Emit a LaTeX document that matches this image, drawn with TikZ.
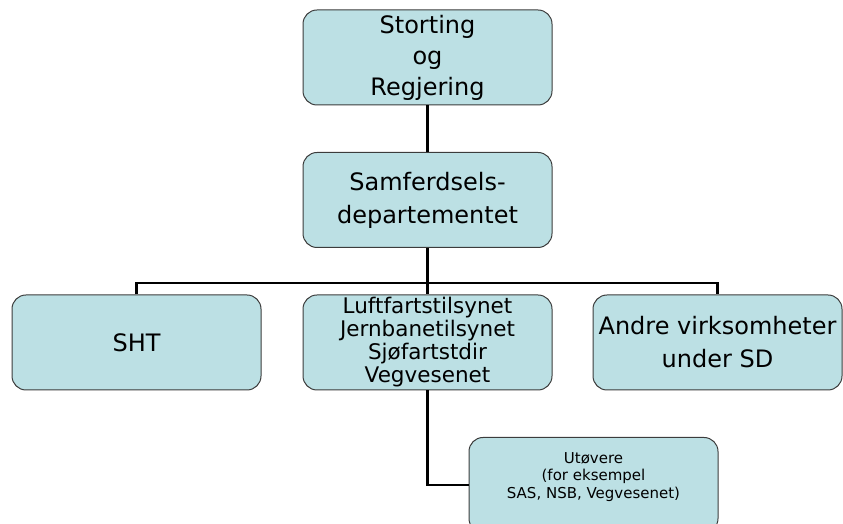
\documentclass[tikz,border=0pt]{standalone}
\usepackage{fontspec}
\setmainfont{DejaVu Sans}
\definecolor{boksfarge}{RGB}{188,224,228}
\definecolor{kant}{RGB}{60,60,60}

\begin{document}
\begin{tikzpicture}[x=1pt,y=1pt,
  boks/.style={draw=kant, line width=1pt, fill=boksfarge, rounded corners=14pt,
    minimum width=249pt, minimum height=95pt, inner sep=0pt, align=center,
    font=\fontsize{24}{31}\selectfont},
  linje/.style={line width=2.9pt}]
\useasboundingbox (0,0) rectangle (843,524);
\clip (0,0) rectangle (843,524);
\node[boks] (sto) at (427.5,466.5) {Storting\\og\\Regjering};
\node[boks, font=\fontsize{24}{33}\selectfont] (sd) at (427.5,324) {Samferdsels-\\departementet};
\node[boks] (sht) at (136.5,181.5) {SHT};
\node[boks, font=\fontsize{21.5}{23}\selectfont] (tilsyn) at (427.5,181.5) {Luftfartstilsynet\\Jernbanetilsynet\\Sjøfartstdir\\Vegvesenet};
\node[boks, font=\fontsize{24}{33}\selectfont] (andre) at (717.5,181.5) {Andre virksomheter\\under SD};
\node[boks, label={[name=uttekst, align=center, yshift=8pt,
    font=\fontsize{15}{17.5}\selectfont]center:Utøvere\\(for eksempel\\SAS, NSB, Vegvesenet)}]
  (ut) at (593.5,39) {};
\coordinate (gren) at (427.5,241);
\draw[linje] (sto.south) -- (sd.north);
\draw[linje] (sd.south) -- (gren) -- (tilsyn.north);
\draw[linje] (sht.north) -- (sht.north |- gren) -- (andre.north |- gren) -- (andre.north);
\draw[linje] (tilsyn.south) |- (ut.west);
\end{tikzpicture}
\end{document}
